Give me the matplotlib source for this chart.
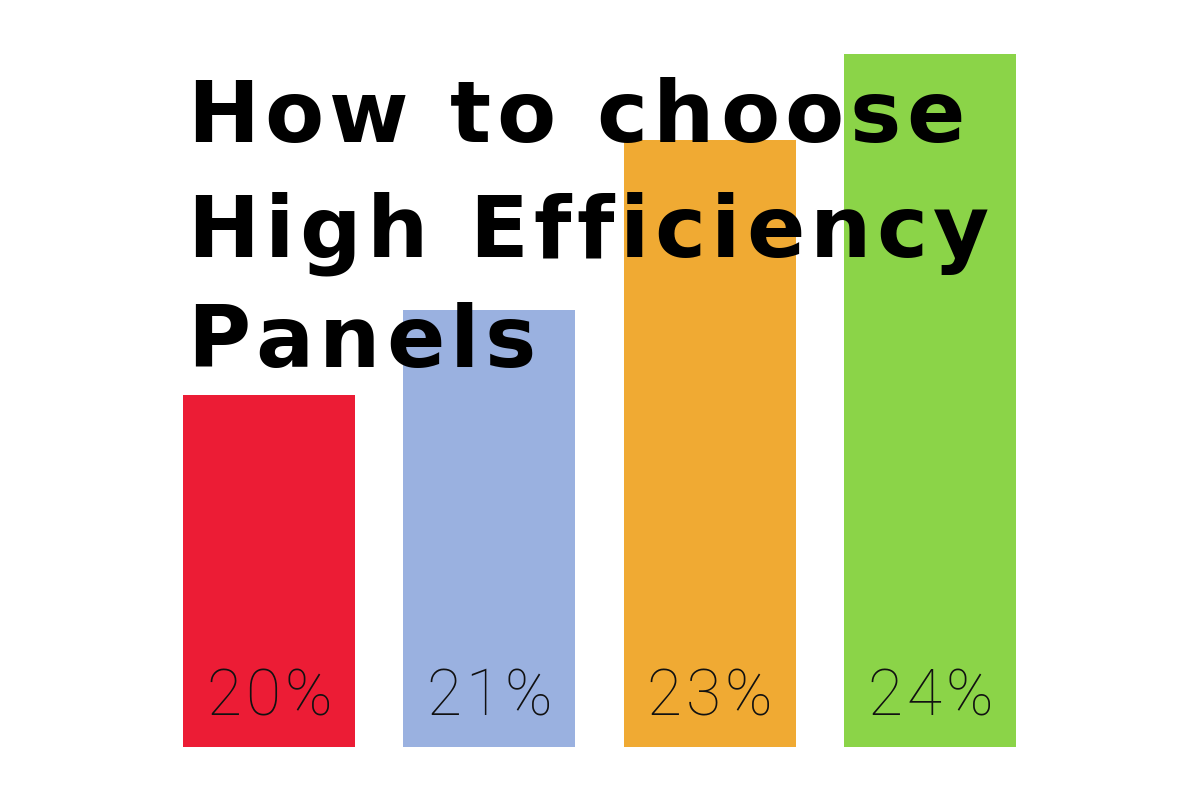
import matplotlib
matplotlib.use("Agg")
import matplotlib.pyplot as plt
from matplotlib import font_manager
from matplotlib.font_manager import FontProperties
from matplotlib.ft2font import FT2Font

# Data
categories = ["A", "B", "C", "D"]
values = [20, 21, 23, 24]
labels = ["20%", "21%", "23%", "24%"]
colors = ["#EC1C35", "#9AB1E0", "#F0AA33", "#8BD448"]
title_lines = ["How to choose", "High Efficiency", "Panels"]

W, H, DPI = 1200, 800, 100
fig = plt.figure(figsize=(W / DPI, H / DPI), dpi=DPI)
fig.patch.set_facecolor("white")


def advances(s, prop, size_pt):
    f = FT2Font(font_manager.findfont(prop))
    f.set_size(size_pt, DPI)
    out = []
    for c in s:
        g = f.load_char(ord(c))
        out.append(g.linearHoriAdvance / 65536.0)
    return out


def spaced_text(x_px, y_px_from_top, s, prop, size_pt, tracking, ha="left", color="black", zorder=5):
    adv = advances(s, prop, size_pt)
    total = sum(adv) + tracking * (len(s) - 1)
    if ha == "center":
        x = x_px - total / 2.0
    else:
        x = x_px
    for c, a in zip(s, adv):
        if c != " ":
            fig.text(x / W, 1 - y_px_from_top / H, c, ha="left", va="baseline",
                     fontproperties=prop, fontsize=size_pt, color=color, zorder=zorder)
        x += a + tracking


# axes placed in pixel terms
ax_left, ax_right = 159, 1040
ax_bottom = 53
ax = fig.add_axes([ax_left / W, ax_bottom / H, (ax_right - ax_left) / W, (H - ax_bottom) / H])
x = list(range(len(categories)))
ax.bar(x, values, width=0.78, color=colors, zorder=1)
ax.set_xlim(-0.5, len(categories) - 0.5)
ax.set_ylim(15.86, 24.64)
ax.axis("off")

# value labels (centred on bars, letter-spaced)
label_prop = FontProperties(family="Roboto", weight="light")
for i, lab in enumerate(labels):
    cx_disp = ax.transData.transform((i, 0))[0]
    spaced_text(cx_disp, 715, lab, label_prop, 46, 4, ha="center", color="#111111")

# title
title_prop = FontProperties(family="DejaVu Sans", weight="bold")
baselines = [142, 257, 367]
for line, b in zip(title_lines, baselines):
    spaced_text(187, b, line, title_prop, 62, 5.5)

fig.savefig("out.png", dpi=DPI)
